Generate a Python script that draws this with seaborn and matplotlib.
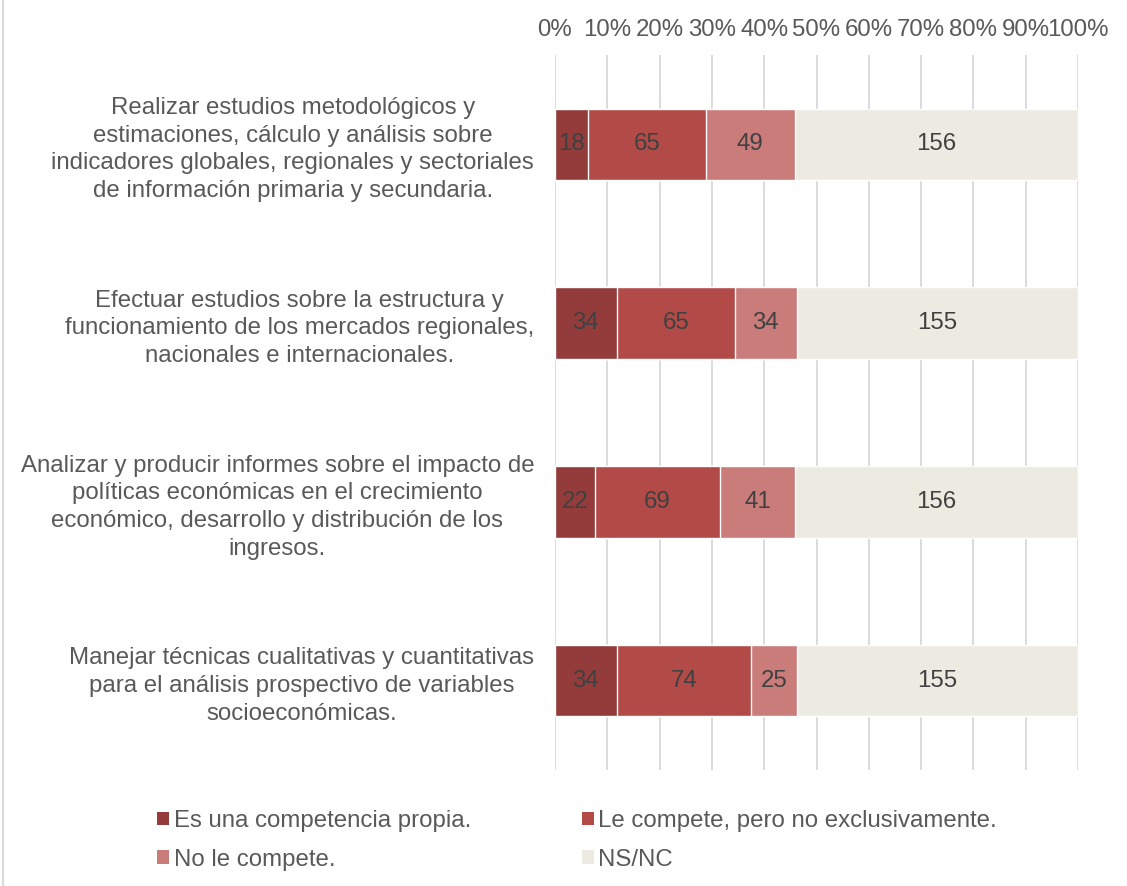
import matplotlib
matplotlib.use("Agg")
import matplotlib.pyplot as plt
import seaborn as sns
import numpy as np
import pandas as pd
from matplotlib.patches import Patch
from matplotlib.lines import Line2D

# categories (top to bottom)
categories = [
    "Realizar estudios metodológicos y\nestimaciones, cálculo y análisis sobre\nindicadores globales, regionales y sectoriales\nde información primaria y secundaria.",
    "Efectuar estudios sobre la estructura y\nfuncionamiento de los mercados regionales,\nnacionales e internacionales.",
    "Analizar y producir informes sobre el impacto de\npolíticas económicas en el crecimiento\neconómico, desarrollo y distribución de los\ningresos.",
    "Manejar técnicas cualitativas y cuantitativas\npara el análisis prospectivo de variables\nsocioeconómicas.",
]
series_names = [
    "Es una competencia propia.",
    "Le compete, pero no exclusivamente.",
    "No le compete.",
    "NS/NC",
]
propia = [18, 34, 22, 34]
no_exclusiva = [65, 65, 69, 74]
no_compete = [49, 34, 41, 25]
ns_nc = [156, 155, 156, 155]
tick_labels = ["0%", "10%", "20%", "30%", "40%", "50%", "60%", "70%", "80%", "90%", "100%"]

colors = ["#943B3B", "#B24A48", "#CA7C7B", "#EDEAE1"]
text_color = "#595959"
fs = 17.3

sns.set_style("white")
plt.rcParams["font.family"] = ["Liberation Sans", "DejaVu Sans"]

counts = np.array([propia, no_exclusiva, no_compete, ns_nc], dtype=float)
totals = counts.sum(axis=0)
pct = counts / totals * 100
cum = np.cumsum(pct, axis=0)

fig = plt.figure(figsize=(11.27, 8.86), dpi=100)
ax = fig.add_axes([555 / 1127, 1 - 770 / 886, 523 / 1127, 715 / 886])

# layered cumulative bars, widest first
for i in range(3, -1, -1):
    df = pd.DataFrame({"cat": categories, "val": cum[i]})
    sns.barplot(data=df, x="val", y="cat", orient="h", color=colors[i],
                saturation=1, width=0.4, ax=ax, zorder=2)

# segment labels
for i in range(4):
    for j in range(len(categories)):
        xc = cum[i, j] - pct[i, j] / 2
        ax.text(xc, j, f"{int(counts[i, j])}", ha="center", va="center",
                fontsize=fs, color="#404040", zorder=5)

ax.set_xlim(0, 100)
ax.set_ylim(3.5, -0.5)
ax.set_xticks(np.arange(0, 101, 10))
ax.set_xticklabels(tick_labels)
ax.xaxis.tick_top()
ax.tick_params(axis="x", length=0, pad=10, labelsize=fs, labelcolor=text_color)
ax.tick_params(axis="y", length=0, pad=15, labelsize=fs, labelcolor=text_color)
for lbl in ax.get_yticklabels():
    lbl.set_multialignment("center")
    lbl.set_linespacing(1.33)
ax.set_xlabel("")
ax.set_ylabel("")
ax.grid(axis="x", color="#D9D9D9", linewidth=1.3, zorder=0)
ax.set_axisbelow(True)
for s in ax.spines.values():
    s.set_visible(False)

handles = [Patch(facecolor=c, edgecolor="none") for c in colors]
order = [0, 2, 1, 3]
fig.legend([handles[k] for k in order], [series_names[k] for k in order],
           ncol=2, loc="upper left", bbox_to_anchor=(157 / 1127, 1 - 810 / 886),
           frameon=False, fontsize=fs, labelcolor=text_color,
           handlelength=0.5, handleheight=0.5, handletextpad=0.2,
           columnspacing=4.6, labelspacing=0.7, borderpad=0, borderaxespad=0)

fig.add_artist(Line2D([0.0025, 0.0025], [0, 1], color="#D9D9D9", linewidth=1.5,
                      transform=fig.transFigure))

fig.savefig("out.png", dpi=100)
